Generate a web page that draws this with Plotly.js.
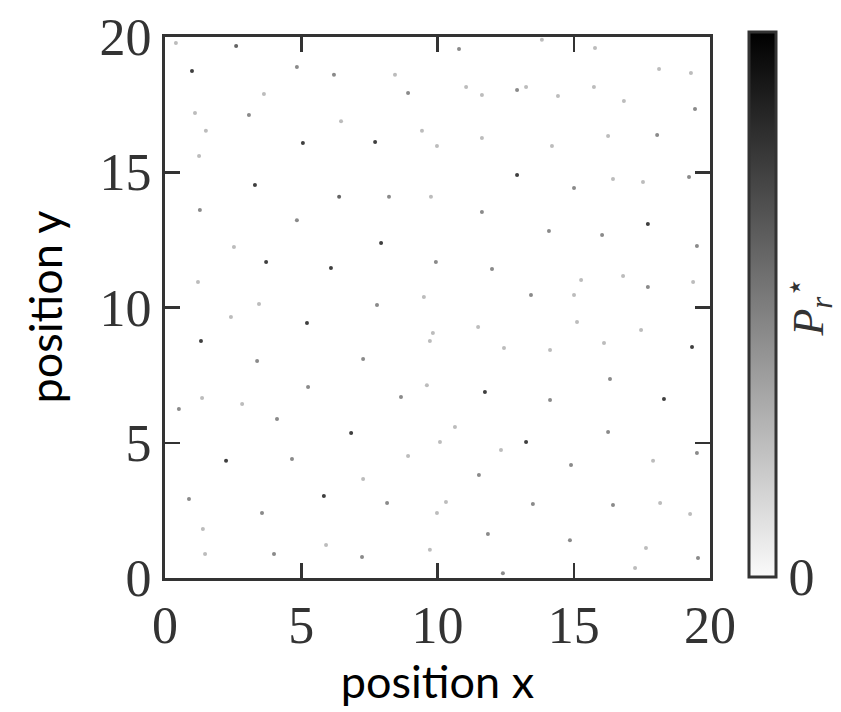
<!DOCTYPE html>
<html>
<head>
<meta charset="utf-8">
<script src="https://cdn.plot.ly/plotly-3.0.1.min.js"></script>
<style>html,body{margin:0;padding:0;background:#fff;}#plot{width:841px;height:712px;}</style>
</head>
<body>
<div id="plot"></div>
<script>
// Dot positions (position x, position y) and their value P_r* (0..1, 1 = black)
const posX = [0.40,2.61,0.99,4.84,6.20,8.44,8.92,3.63,1.10,3.08,6.46,1.50,9.43,5.06,7.71,9.98,1.25,3.30,6.39,8.22,9.76,1.28,4.84,7.93,2.53,3.71,6.09,9.94,1.21,3.45,7.78,9.50,
  13.83,10.79,15.78,18.13,19.30,11.05,11.63,12.92,13.25,14.42,15.74,16.84,19.45,11.63,14.20,16.26,18.06,12.92,15.01,16.44,17.54,19.23,11.63,14.09,16.04,17.72,19.52,12.00,15.27,16.81,17.72,19.38,13.43,15.01,
  2.42,5.21,1.32,3.38,7.27,9.83,9.72,5.25,1.36,0.51,2.83,4.11,9.61,8.66,6.83,2.24,4.66,8.92,7.27,0.88,5.83,8.15,3.56,9.98,1.39,5.91,4.00,7.23,1.47,9.72,
  11.49,15.12,17.47,19.34,16.11,12.44,14.13,16.33,11.74,14.13,18.31,10.64,16.26,10.09,13.25,12.33,19.52,11.52,14.90,17.91,10.31,13.50,16.44,18.17,19.27,11.85,14.86,17.65,12.40,17.25,19.56];
const posY = [19.78,19.67,18.74,18.89,18.60,18.60,17.93,17.89,17.19,17.12,16.89,16.53,16.53,16.08,16.12,15.97,15.60,14.53,14.09,14.09,14.09,13.60,13.23,12.38,12.24,11.68,11.46,11.68,10.94,10.13,10.09,10.39,
  19.90,19.56,19.59,18.82,18.67,18.15,17.86,18.04,18.15,17.82,18.15,17.63,17.34,16.27,15.97,16.34,16.38,14.90,14.42,14.75,14.64,14.82,13.53,12.83,12.68,13.09,12.27,11.42,11.02,11.16,10.76,10.94,10.46,10.46,
  9.65,9.43,8.76,8.02,8.10,9.06,8.76,7.06,6.65,6.25,6.43,5.88,7.13,6.69,5.36,4.33,4.40,4.51,3.66,2.92,3.03,2.77,2.40,2.40,1.81,1.22,0.89,0.78,0.89,1.04,
  9.28,9.46,9.17,8.54,8.69,8.50,8.43,7.36,6.88,6.58,6.62,5.58,5.40,5.03,5.03,4.73,4.62,3.81,4.18,4.33,2.81,2.74,2.70,2.77,2.37,1.63,1.40,1.11,0.18,0.37,0.74];
const valP = [0.25,0.6,0.75,0.45,0.45,0.25,0.45,0.25,0.25,0.45,0.25,0.25,0.25,0.75,0.75,0.25,0.25,0.75,0.6,0.45,0.25,0.45,0.45,0.75,0.25,0.75,0.75,0.45,0.25,0.25,0.45,0.25,
  0.25,0.45,0.25,0.25,0.25,0.25,0.25,0.45,0.25,0.25,0.25,0.25,0.45,0.25,0.25,0.25,0.45,0.75,0.45,0.25,0.25,0.45,0.45,0.45,0.45,0.75,0.45,0.45,0.25,0.25,0.45,0.25,0.45,0.25,
  0.25,0.75,0.75,0.45,0.45,0.25,0.25,0.45,0.25,0.45,0.25,0.45,0.25,0.45,0.75,0.75,0.45,0.25,0.25,0.45,0.75,0.45,0.45,0.25,0.25,0.25,0.45,0.45,0.25,0.25,
  0.25,0.25,0.25,0.75,0.25,0.25,0.25,0.45,0.75,0.45,0.75,0.25,0.45,0.25,0.75,0.25,0.45,0.45,0.45,0.25,0.25,0.45,0.45,0.25,0.25,0.45,0.45,0.25,0.45,0.25,0.45];
const tickVals = [0,5,10,15,20];
const tickText = ['0','5','10','15','20'];

const serif = 'Liberation Serif, DejaVu Serif, serif';
const sans = 'Lato, Open Sans, sans-serif';
const frame = '#333333';

const trace = {
  type: 'scatter', mode: 'markers',
  x: posX, y: posY,
  marker: {
    size: 4, symbol: 'circle',
    color: valP, cmin: 0, cmax: 1,
    colorscale: [[0,'#fafafa'],[1,'#000000']],
    showscale: true,
    colorbar: {
      thickness: 27, thicknessmode: 'pixels',
      len: 545, lenmode: 'pixels',
      x: 1.072, xanchor: 'left', xref: 'paper',
      y: 0.505, yanchor: 'middle',
      outlinewidth: 3, outlinecolor: frame,
      tickvals: [0], ticktext: ['0'], ticks: '',
      tickfont: {family: serif, size: 52, color: '#333'},
      ypad: 0, xpad: 0
    }
  },
  hoverinfo: 'x+y'
};

const axisCommon = {
  range: [0,20], showgrid: false, zeroline: false,
  showline: true, linewidth: 3, linecolor: frame, mirror: 'allticks',
  ticks: 'inside', ticklen: 15, tickwidth: 2.5, tickcolor: frame,
  tickvals: tickVals, ticktext: tickText,
  tickfont: {family: serif, size: 52, color: '#333'},
  automargin: false, fixedrange: true
};

const layout = {
  width: 841, height: 712,
  margin: {l: 165, r: 131, t: 37, b: 134},
  paper_bgcolor: '#ffffff', plot_bgcolor: '#ffffff',
  showlegend: false,
  xaxis: Object.assign({}, axisCommon, {
    title: {text: 'position x', font: {family: sans, size: 45, color: '#000'}, standoff: 12}
  }),
  yaxis: Object.assign({}, axisCommon),
  annotations: [{
    text: 'position y',
    xref: 'paper', yref: 'paper', x: -0.222, y: 0.5,
    xanchor: 'center', yanchor: 'middle', showarrow: false, textangle: -90,
    font: {family: sans, size: 45, color: '#000'}
  }, {
    text: '<i>P</i><sub><i>r</i></sub><sup>⋆</sup>',
    xref: 'paper', yref: 'paper', x: 1.18, y: 0.5,
    xanchor: 'center', yanchor: 'middle', showarrow: false, textangle: -90,
    font: {family: serif, size: 44, color: '#333'}
  }]
};

Plotly.newPlot('plot', [trace], layout, {displayModeBar: false, staticPlot: true});
</script>
</body>
</html>
